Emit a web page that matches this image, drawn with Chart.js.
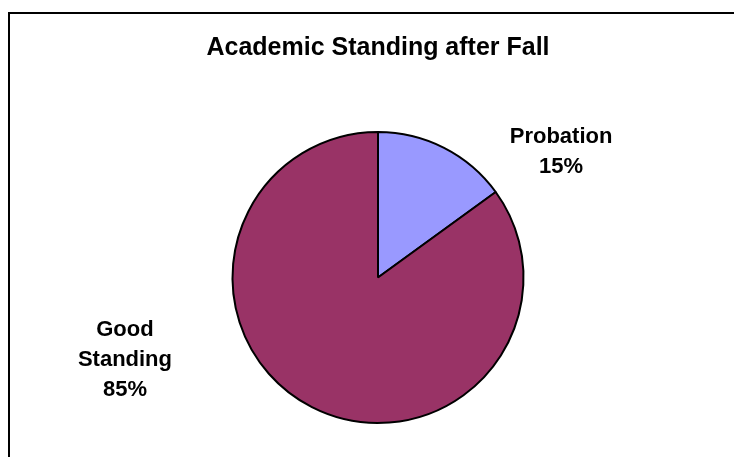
<!DOCTYPE html>
<html>
<head>
<meta charset="utf-8">
<title>Academic Standing after Fall</title>
<script src="https://cdn.jsdelivr.net/npm/chart.js@4/dist/chart.umd.min.js"></script>
<style>
  html, body { margin: 0; padding: 0; background: #fff; overflow: hidden; }
  #wrap { position: relative; width: 734px; height: 457px; overflow: hidden; }
  #frame {
    position: absolute; left: 8px; top: 12px; width: 800px; height: 500px;
    border-left: 2px solid #000; border-top: 2px solid #000;
  }
  canvas { position: absolute; left: 11px; top: 0; }
</style>
</head>
<body>
<div id="wrap">
  <div id="frame"></div>
  <canvas id="myChart" width="734" height="457"></canvas>
</div>
<script>
var labels = ['Probation', 'Good Standing'];
var values = [15, 85];
var colors = ['#9999FF', '#993366'];
// where each label sits, relative to the slice's outer edge
var labelShift = [[117, 4], [-187, -47]];

var sliceLabels = {
  id: 'sliceLabels',
  afterDatasetsDraw: function(chart) {
    var ctx = chart.ctx;
    var meta = chart.getDatasetMeta(0);
    var total = values.reduce(function(a, b) { return a + b; }, 0);
    ctx.save();
    ctx.font = 'bold 22px Arial, "Liberation Sans", sans-serif';
    ctx.fillStyle = '#000';
    ctx.textAlign = 'center';
    ctx.textBaseline = 'middle';
    meta.data.forEach(function(arc, i) {
      var mid = (arc.startAngle + arc.endAngle) / 2;
      var ax = arc.x + Math.cos(mid) * arc.outerRadius + labelShift[i][0];
      var ay = arc.y + Math.sin(mid) * arc.outerRadius + labelShift[i][1];
      var lines = labels[i].split(' ');
      lines.push(Math.round(values[i] / total * 100) + '%');
      var lh = 30;
      var y0 = ay - (lines.length - 1) * lh / 2;
      lines.forEach(function(t, k) {
        ctx.fillText(t, ax, y0 + k * lh);
      });
    });
    ctx.restore();
  }
};

var ctx = document.getElementById('myChart').getContext('2d');
var chart = new Chart(ctx, {
  type: 'pie',
  data: {
    labels: labels,
    datasets: [{
      data: values,
      backgroundColor: colors,
      borderColor: '#000',
      borderWidth: 2,
      hoverBorderWidth: 2
    }]
  },
  options: {
    responsive: false,
    animation: false,
    layout: { padding: { top: 0, bottom: 33, left: 0, right: 0 } },
    plugins: {
      legend: { display: false },
      tooltip: { enabled: false },
      title: {
        display: true,
        text: 'Academic Standing after Fall',
        color: '#000',
        font: { family: 'Arial, "Liberation Sans", sans-serif', size: 25, weight: 'bold' },
        padding: { top: 33, bottom: 68 }
      }
    }
  },
  plugins: [sliceLabels]
});
</script>
</body>
</html>
